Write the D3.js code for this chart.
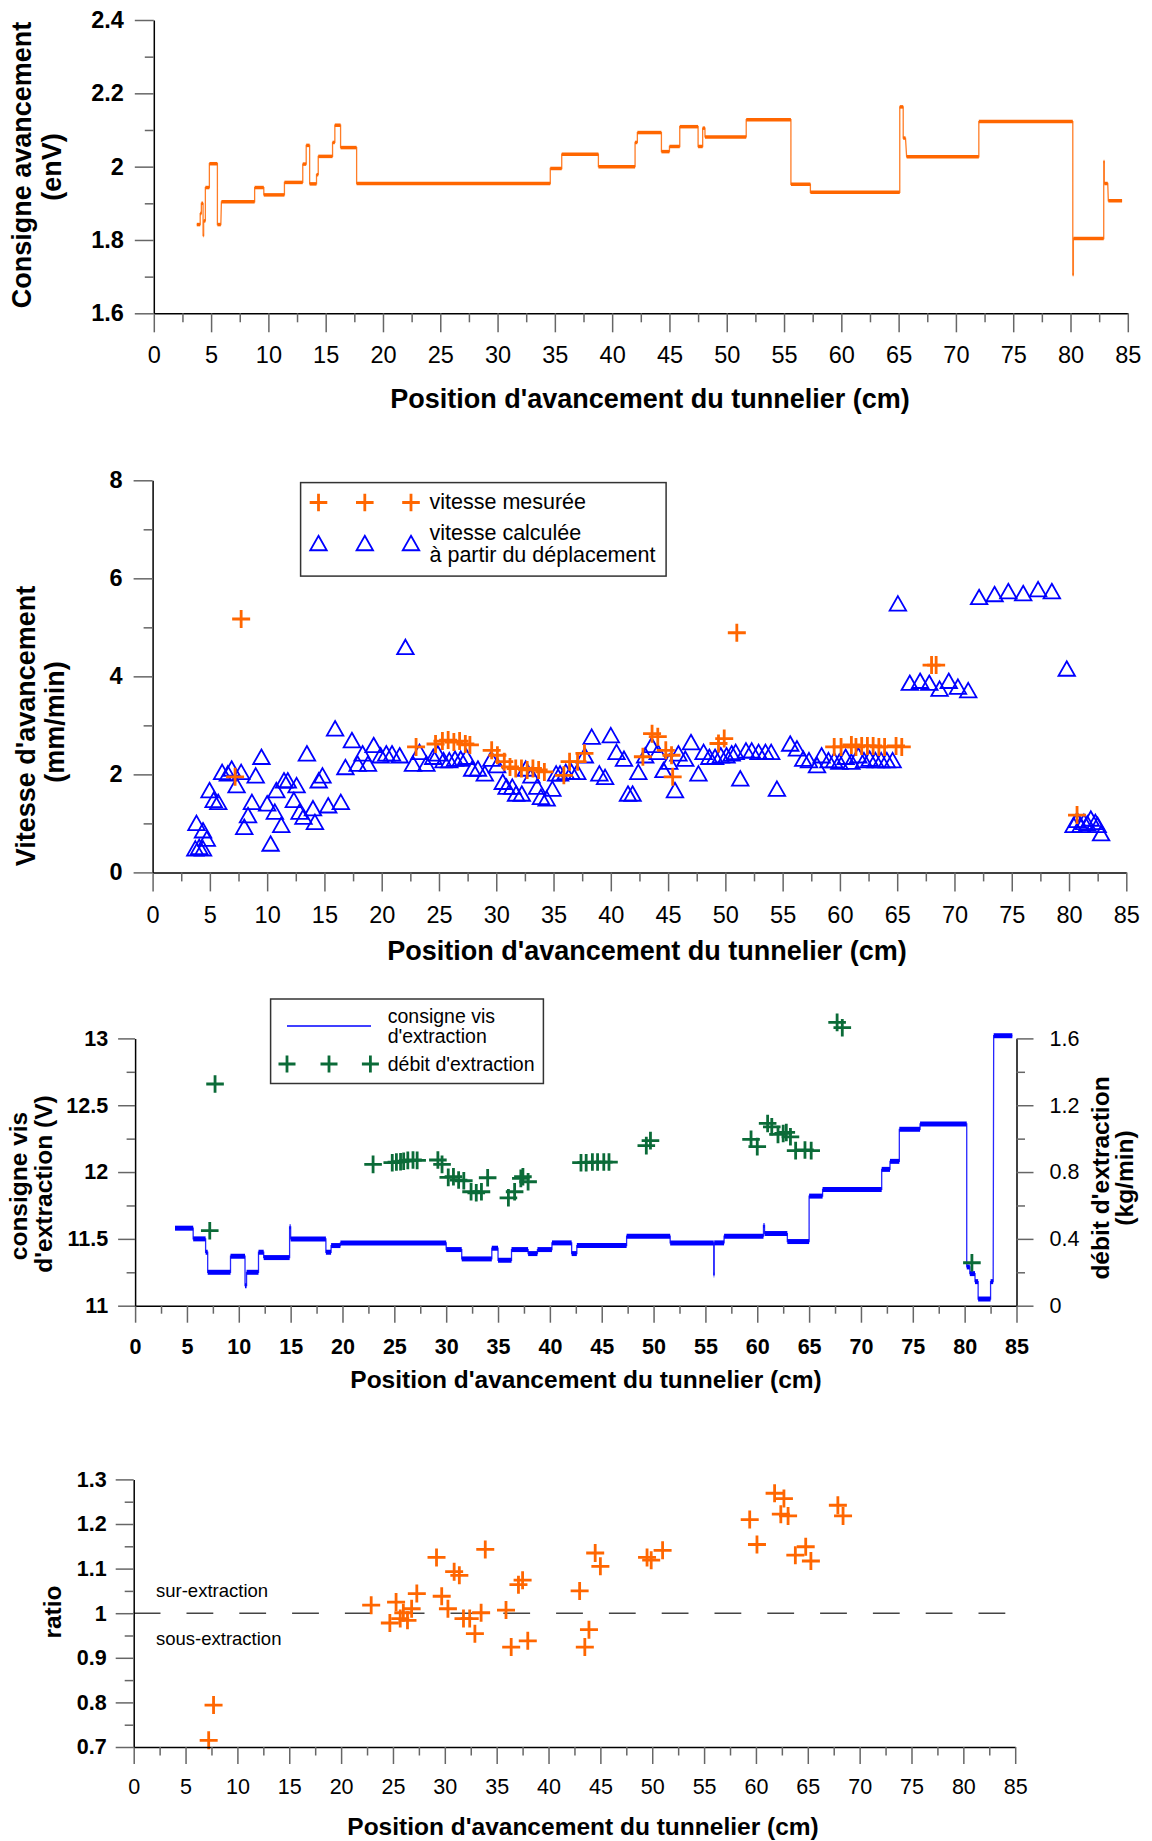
<!DOCTYPE html>
<html><head><meta charset="utf-8">
<script src="https://cdn.jsdelivr.net/npm/d3@7"></script>
<style>body{margin:0;background:#fff}</style>
</head><body>
<script>
// ---------------- DATA ----------------
const xMajor = [0,5,10,15,20,25,30,35,40,45,50,55,60,65,70,75,80,85];
const xMinor = [2.5,7.5,12.5,17.5,22.5,27.5,32.5,37.5,42.5,47.5,52.5,57.5,62.5,67.5,72.5,77.5,82.5];
const p1YMajor = [1.6,1.8,2.0,2.2,2.4];
const p1YMinor = [1.7,1.9,2.1,2.3];
// consigne avancement : [x début, x fin, valeur]
const p1Consigne = [
 [3.75,4.05,1.842],[4.05,4.15,1.872],[4.15,4.3,1.90],[4.3,4.35,1.812],[4.35,4.5,1.852],
 [4.5,4.85,1.943],[4.85,5.55,2.008],[5.55,5.85,1.842],[5.9,8.8,1.904],[8.8,9.6,1.943],
 [9.6,11.4,1.923],[11.4,13.0,1.957],[13.0,13.3,2.007],[13.3,13.6,2.058],[13.6,14.2,1.953],
 [14.2,14.35,1.978],[14.35,15.6,2.028],[15.6,15.8,2.066],[15.8,16.3,2.113],[16.3,17.7,2.052],
 [17.7,34.6,1.954],[34.6,35.6,1.995],[35.6,38.8,2.034],[38.8,42.0,2.0],[42.0,42.2,2.066],
 [42.2,44.3,2.093],[44.3,45.0,2.041],[45.0,45.9,2.055],[45.9,47.5,2.109],[47.5,47.9,2.055],
 [47.9,48.1,2.105],[48.1,51.7,2.081],[51.7,55.6,2.128],[55.6,57.3,1.952],[57.3,65.1,1.93],
 [65.1,65.4,2.163],[65.4,65.6,2.078],[65.7,72.0,2.027],[72.0,80.2,2.123],[80.2,80.25,1.705],
 [80.25,82.9,1.804],[82.9,82.95,2.014],[82.95,83.25,1.954],[83.3,84.5,1.907]
];

const p2YMajor = [0,2,4,6,8];
const p2YMinor = [1,3,5,7];
const p2Mesuree = [
 [7.73,5.17],[7.2,1.95],[23.0,2.56],[24.7,2.62],[25.3,2.68],[25.8,2.70],[26.3,2.66],[26.8,2.68],
 [27.3,2.62],[27.7,2.60],[29.6,2.49],[30.1,2.39],[30.7,2.26],[31.2,2.15],[31.7,2.12],[32.2,2.12],
 [32.7,2.09],[33.2,2.12],[33.7,2.09],[34.2,2.05],[35.9,1.98],[36.4,2.26],[37.1,2.26],[37.7,2.43],
 [42.8,2.36],[43.6,2.83],[44.1,2.77],[44.8,2.49],[45.3,2.39],[45.4,1.95],[49.4,2.63],[49.9,2.73],
 [51.0,4.89],[59.5,2.56],[60.1,2.56],[61.0,2.6],[61.4,2.56],[61.9,2.58],[62.4,2.58],[62.9,2.58],
 [63.4,2.56],[63.9,2.56],[64.9,2.58],[65.4,2.56],[68.0,4.23],[68.4,4.23],[80.7,1.17]
];
const p2Calculee = [
 [3.83,1.01],[3.73,0.49],[4.07,0.52],[4.4,0.49],[4.4,0.86],[4.73,0.69],[4.97,1.68],[5.33,1.48],
 [5.73,1.44],[6.07,2.05],[6.57,2.02],[6.9,2.12],[7.33,1.78],[7.73,2.05],[8.0,0.93],[8.33,1.17],
 [8.67,1.44],[9.0,1.98],[9.5,2.36],[10.0,1.41],[10.3,0.59],[10.67,1.24],[10.8,1.68],[11.23,0.97],
 [11.47,1.88],[11.8,1.88],[12.33,1.48],[12.57,1.78],[12.83,1.24],[13.17,1.14],[13.47,2.43],[14.0,1.31],
 [14.17,1.03],[14.5,1.88],[14.83,1.98],[15.33,1.37],[15.93,2.94],[16.43,1.44],[16.83,2.15],[17.4,2.70],
 [17.9,2.22],[18.33,2.43],[18.8,2.22],[19.3,2.60],[19.9,2.39],[20.4,2.43],[20.9,2.43],[21.57,2.39],
 [22.07,4.60],[22.73,2.22],[23.3,2.46],[23.9,2.22],[24.5,2.36],[24.9,2.43],[25.4,2.29],[25.9,2.29],
 [26.4,2.32],[26.9,2.32],[27.4,2.36],[27.9,2.12],[28.4,2.12],[29.0,2.02],[29.57,2.32],[30.07,2.19],
 [30.57,1.85],[30.9,1.75],[31.4,1.75],[31.73,1.61],[32.23,1.61],[32.57,2.12],[33.07,1.98],[33.57,1.75],
 [33.9,1.54],[34.4,1.51],[34.9,1.71],[35.23,2.02],[35.57,2.02],[36.07,2.05],[36.57,2.05],[37.07,2.05],
 [37.73,2.39],[38.33,2.77],[39.0,2.02],[39.5,1.95],[40.0,2.80],[40.5,2.46],[41.15,2.32],[41.5,1.61],
 [41.9,1.61],[42.4,2.05],[43.0,2.39],[43.56,2.60],[44.1,2.46],[44.6,2.09],[45.1,2.26],[45.6,1.68],
 [45.9,2.43],[46.5,2.32],[47.0,2.66],[47.65,2.02],[48.1,2.46],[48.6,2.36],[49.1,2.36],[49.6,2.39],
 [50.1,2.39],[50.55,2.43],[50.9,2.46],[51.3,1.92],[51.8,2.49],[52.3,2.49],[52.9,2.46],[53.5,2.46],
 [54.0,2.46],[54.5,1.71],[55.66,2.63],[56.25,2.53],[56.8,2.32],[57.3,2.29],[58.0,2.19],[58.4,2.39],
 [59.0,2.29],[59.5,2.29],[59.95,2.26],[60.5,2.36],[61.0,2.26],[61.6,2.39],[62.1,2.29],[62.6,2.32],
 [63.1,2.29],[63.6,2.29],[64.1,2.29],[64.6,2.29],[65.06,5.49],[66.1,3.87],[67.0,3.91],[67.8,3.87],
 [68.7,3.75],[69.5,3.91],[70.3,3.79],[71.2,3.72],[72.15,5.62],[73.5,5.68],[74.7,5.74],[76.0,5.70],
 [77.3,5.78],[78.5,5.74],[79.8,4.16],[80.4,0.97],[80.7,1.07],[81.0,0.97],[81.3,1.03],[81.6,1.0],
 [81.9,1.10],[82.3,1.03],[82.5,0.97],[82.8,0.80]
];

const p3YLMajor = [11,11.5,12,12.5,13];
const p3YLMinor = [11.25,11.75,12.25,12.75];
const p3YRMajor = [0,0.4,0.8,1.2,1.6];
const p3YRMinor = [0.2,0.6,1.0,1.4];
// consigne vis d'extraction : [x début, x fin, valeur]
const p3Vis = [
 [3.85,5.6,11.58],[5.6,6.8,11.50],[6.8,7.0,11.40],[7.0,9.2,11.25],[9.2,10.6,11.37],
 [10.6,10.75,11.15],[10.75,11.9,11.25],[11.9,12.4,11.40],[12.4,14.9,11.36],[14.9,15.0,11.59],
 [15.0,18.4,11.50],[18.4,18.9,11.40],[18.9,19.8,11.45],[19.8,30.0,11.47],[30.0,31.5,11.42],
 [31.5,34.4,11.35],[34.4,35.0,11.43],[35.0,36.3,11.34],[36.3,37.9,11.42],[37.9,38.8,11.39],
 [38.8,40.2,11.42],[40.2,42.1,11.47],[42.1,42.6,11.39],[42.6,47.4,11.45],[47.4,51.6,11.52],
 [51.6,55.8,11.47],[55.8,55.85,11.23],[55.85,56.8,11.47],[56.8,60.6,11.52],[60.6,60.7,11.60],
 [60.7,62.9,11.54],[62.9,65.0,11.48],[65.0,66.3,11.82],[66.3,72.0,11.87],[72.0,72.8,12.02],
 [72.8,73.7,12.08],[73.7,75.7,12.32],[75.7,80.2,12.36],[80.2,80.5,11.29],[80.5,81.0,11.24],
 [81.0,81.3,11.18],[81.3,82.5,11.05],[82.5,82.75,11.18],[82.8,84.6,13.02]
];
const p3Debit = [
 [7.71,1.327],[7.2,0.449],[22.95,0.846],[24.8,0.856],[25.2,0.86],[25.6,0.862],[25.9,0.865],
 [26.3,0.87],[26.8,0.872],[27.2,0.87],[29.2,0.872],[29.6,0.846],[30.2,0.768],[30.7,0.772],
 [31.2,0.752],[31.7,0.748],[32.4,0.682],[32.9,0.676],[33.4,0.682],[34.0,0.766],[36.0,0.646],
 [36.6,0.682],[37.2,0.762],[37.4,0.772],[37.9,0.742],[43.0,0.856],[43.5,0.856],[44.1,0.86],
 [44.6,0.86],[45.2,0.86],[45.7,0.86],[49.3,0.958],[49.7,0.988],[59.4,0.996],[60.0,0.952],
 [61.0,1.091],[61.4,1.071],[62.0,1.025],[62.5,1.031],[62.8,1.037],[63.2,1.011],[63.7,0.928],
 [64.6,0.932],[65.2,0.928],[67.7,1.696],[68.2,1.664],[80.7,0.257]
];

const p4YMajor = [0.7,0.8,0.9,1.0,1.1,1.2,1.3];
const p4YMinor = [0.75,0.85,0.95,1.05,1.15,1.25];
const p4Ratio = [
 [7.23,0.715],[7.7,0.794],[22.9,1.018],[24.7,0.978],[25.3,1.025],[25.7,0.988],[26.0,1.001],
 [26.4,0.984],[26.8,1.010],[27.3,1.044],[29.2,1.125],[29.7,1.038],[30.3,1.010],[30.9,1.093],
 [31.4,1.085],[31.8,0.988],[32.4,0.988],[32.9,0.954],[33.5,1.001],[33.9,1.143],[35.9,1.007],
 [36.4,0.924],[37.1,1.064],[37.5,1.074],[38.0,0.938],[43.0,1.050],[43.5,0.924],[43.9,0.963],
 [44.5,1.135],[45.0,1.105],[49.5,1.125],[49.9,1.119],[51.0,1.141],[59.4,1.210],[60.1,1.154],
 [61.8,1.269],[62.4,1.222],[62.7,1.257],[63.1,1.218],[63.8,1.130],[64.8,1.149],[65.3,1.117],
 [67.9,1.242],[68.4,1.218]
];
const p4RefLine = [[0,1],[84.4,1]];

const xTitle = "Position d'avancement du tunnelier (cm)";

// ---------------- DRAW ----------------
const FONT = "'Liberation Sans', Arial, Helvetica, sans-serif";
const ORANGE = "#ff6600", BLUE = "#0000ff", GREEN = "#0b6b38", TICK = "#666";
const svg = d3.select("body").append("svg").attr("width",1152).attr("height",1841)
  .style("font-family",FONT);
const fmt = d => String(Math.round(d*100)/100);

function styleTicks(a, o){
  a.select(".domain").attr("stroke","#000").attr("stroke-width",1.5);
  a.selectAll(".tick line").attr("stroke",TICK).attr("stroke-width",1.5);
  a.selectAll(".tick text").attr("font-family",FONT).attr("font-size",o.fs)
    .attr("font-weight",o.bold?"bold":"normal").attr("fill","#000");
}
function axis(gen, scale, pos, majors, minors, o){
  const tr = (gen===d3.axisBottom) ? `translate(0,${pos})` : `translate(${pos},0)`;
  const a = svg.append("g").attr("transform",tr)
    .call(gen(scale).tickValues(majors).tickSize(o.major).tickSizeOuter(0).tickPadding(o.pad).tickFormat(fmt));
  styleTicks(a,o);
  const m = svg.append("g").attr("transform",tr)
    .call(gen(scale).tickValues(minors).tickSize(o.minor).tickSizeOuter(0).tickFormat(""));
  m.select(".domain").remove();
  m.selectAll(".tick line").attr("stroke",TICK).attr("stroke-width",1.5);
}
function text(x,y,str,o){
  const t = svg.append("text").attr("x",x).attr("y",y).text(str)
    .attr("font-size",o.fs).attr("font-weight",o.bold?"bold":"normal")
    .attr("text-anchor",o.anchor||"start").attr("fill","#000");
  if(o.rot) t.attr("transform",`rotate(-90,${x},${y})`);
  return t;
}
function crossPath(s){ return `M${-s},0H${s}M0,${-s}V${s}`; }
function trianglePath(w,h){ return `M0,${-h/2}L${w/2},${h/2}L${-w/2},${h/2}Z`; }
function stepLine(segs, x, y, colour, thick){
  const pts = [];
  segs.forEach(s => { pts.push([s[0],s[2]]); pts.push([s[1],s[2]]); });
  svg.append("path").attr("d", d3.line().x(d=>x(d[0])).y(d=>y(d[1]))(pts))
    .attr("fill","none").attr("stroke",colour).attr("stroke-width",1.3).attr("stroke-opacity",0.85);
  svg.append("g").selectAll("line").data(segs).join("line")
    .attr("x1",d=>x(d[0])).attr("x2",d=>x(d[1])).attr("y1",d=>y(d[2])).attr("y2",d=>y(d[2]))
    .attr("stroke",colour).attr("stroke-width",thick);
}
function crosses(data, x, y, colour, s, sw){
  svg.append("g").selectAll("path").data(data).join("path")
    .attr("transform",d=>`translate(${x(d[0])},${y(d[1])})`)
    .attr("d",crossPath(s)).attr("stroke",colour).attr("stroke-width",sw).attr("fill","none");
}

// ===== Panel 1 =====
{
  const x = d3.scaleLinear([0,85],[153.8,1127.8]);
  const y = d3.scaleLinear([1.6,2.4],[313.3,20]);
  stepLine(p1Consigne, x, y, ORANGE, 3.5);
  axis(d3.axisBottom, x, 313.3, xMajor, xMinor, {major:19, minor:9, pad:14.5, fs:23.5, bold:false});
  axis(d3.axisLeft, y, 153.8, p1YMajor, p1YMinor, {major:19, minor:9, pad:11, fs:23.5, bold:true});
  text(650, 408, xTitle, {fs:27, bold:true, anchor:"middle"});
  text(31, 165, "Consigne avancement", {fs:27, bold:true, anchor:"middle", rot:true});
  text(61, 167, "(enV)", {fs:27, bold:true, anchor:"middle", rot:true});
}

// ===== Panel 2 =====
{
  const x = d3.scaleLinear([0,85],[152.6,1126.3]);
  const y = d3.scaleLinear([0,8],[872.4,480.3]);
  axis(d3.axisBottom, x, 872.4, xMajor, xMinor, {major:19, minor:9, pad:14.5, fs:23.5, bold:false});
  axis(d3.axisLeft, y, 152.6, p2YMajor, p2YMinor, {major:19, minor:9, pad:11, fs:23.5, bold:true});
  svg.append("g").selectAll("path").data(p2Calculee).join("path")
    .attr("transform",d=>`translate(${x(d[0])},${y(d[1])})`)
    .attr("d",trianglePath(16.5,14.5)).attr("stroke",BLUE).attr("stroke-width",1.8).attr("fill","none");
  crosses(p2Mesuree, x, y, ORANGE, 9, 2.8);
  // legend
  svg.append("rect").attr("x",300.6).attr("y",482.6).attr("width",365.5).attr("height",93.5)
    .attr("fill","#fff").attr("stroke","#333").attr("stroke-width",1.5);
  [318.5,364.8,411].forEach(cx=>{
    svg.append("path").attr("transform",`translate(${cx},502.5)`).attr("d",crossPath(8.8))
      .attr("stroke",ORANGE).attr("stroke-width",2.8).attr("fill","none");
    svg.append("path").attr("transform",`translate(${cx},543)`).attr("d",trianglePath(16.5,14.5))
      .attr("stroke",BLUE).attr("stroke-width",1.8).attr("fill","none");
  });
  text(429.5, 509, "vitesse mesurée", {fs:21.5});
  text(429.5, 540, "vitesse calculée", {fs:21.5});
  text(429.5, 562, "à partir du déplacement", {fs:21.5});
  text(647, 960, xTitle, {fs:27, bold:true, anchor:"middle"});
  text(34.5, 726, "Vitesse d'avancement", {fs:27, bold:true, anchor:"middle", rot:true});
  text(63.5, 722, "(mm/min)", {fs:27, bold:true, anchor:"middle", rot:true});
}

// ===== Panel 3 =====
{
  const x = d3.scaleLinear([0,85],[135.1,1016.5]);
  const yL = d3.scaleLinear([11,13],[1305.7,1038.4]);
  const yR = d3.scaleLinear([0,1.6],[1305.7,1038.4]);
  stepLine(p3Vis, x, yL, BLUE, 5);
  crosses(p3Debit, x, yR, GREEN, 8.8, 2.8);
  axis(d3.axisBottom, x, 1305.7, xMajor, xMinor, {major:17, minor:8, pad:16, fs:21.5, bold:true});
  axis(d3.axisLeft, yL, 135.1, p3YLMajor, p3YLMinor, {major:17, minor:8.5, pad:10, fs:21.5, bold:true});
  axis(d3.axisRight, yR, 1016.5, p3YRMajor, p3YRMinor, {major:17, minor:8.5, pad:16, fs:21.5, bold:false});
  // legend
  svg.append("rect").attr("x",270.6).attr("y",999).attr("width",272.8).attr("height",84.5)
    .attr("fill","#fff").attr("stroke","#333").attr("stroke-width",1.5);
  svg.append("line").attr("x1",287).attr("x2",371).attr("y1",1026).attr("y2",1026)
    .attr("stroke",BLUE).attr("stroke-width",1.5);
  [287,329,370.4].forEach(cx=>{
    svg.append("path").attr("transform",`translate(${cx},1064)`).attr("d",crossPath(8.5))
      .attr("stroke",GREEN).attr("stroke-width",2.8).attr("fill","none");
  });
  text(387.7, 1023, "consigne vis", {fs:19.5});
  text(387.7, 1043, "d'extraction", {fs:19.5});
  text(387.7, 1071, "débit d'extraction", {fs:19.5});
  text(586, 1388, xTitle, {fs:24.5, bold:true, anchor:"middle"});
  text(27, 1186, "consigne vis", {fs:24.5, bold:true, anchor:"middle", rot:true});
  text(52, 1184, "d'extraction (V)", {fs:24.5, bold:true, anchor:"middle", rot:true});
  text(1109, 1178, "débit d'extraction", {fs:24.5, bold:true, anchor:"middle", rot:true});
  text(1133, 1178, "(kg/min)", {fs:24.5, bold:true, anchor:"middle", rot:true});
}

// ===== Panel 4 =====
{
  const x = d3.scaleLinear([0,85],[133.7,1015.2]);
  const y = d3.scaleLinear([0.7,1.3],[1747,1479.4]);
  svg.append("path").attr("d", d3.line().x(d=>x(d[0])).y(d=>y(d[1]))(p4RefLine))
    .attr("stroke","#444").attr("stroke-width",1.5).attr("stroke-dasharray","26.8,26").attr("fill","none");
  crosses(p4Ratio, x, y, ORANGE, 9, 2.8);
  axis(d3.axisBottom, x, 1747, xMajor, xMinor, {major:17, minor:8.5, pad:15, fs:21.5, bold:false});
  axis(d3.axisLeft, y, 133.7, p4YMajor, p4YMinor, {major:18, minor:9, pad:9, fs:21.5, bold:true});
  text(156, 1597, "sur-extraction", {fs:18.5});
  text(156, 1645, "sous-extraction", {fs:18.5});
  text(583, 1835, xTitle, {fs:24.5, bold:true, anchor:"middle"});
  text(60.5, 1612, "ratio", {fs:24.5, bold:true, anchor:"middle", rot:true});
}
</script>
</body></html>
